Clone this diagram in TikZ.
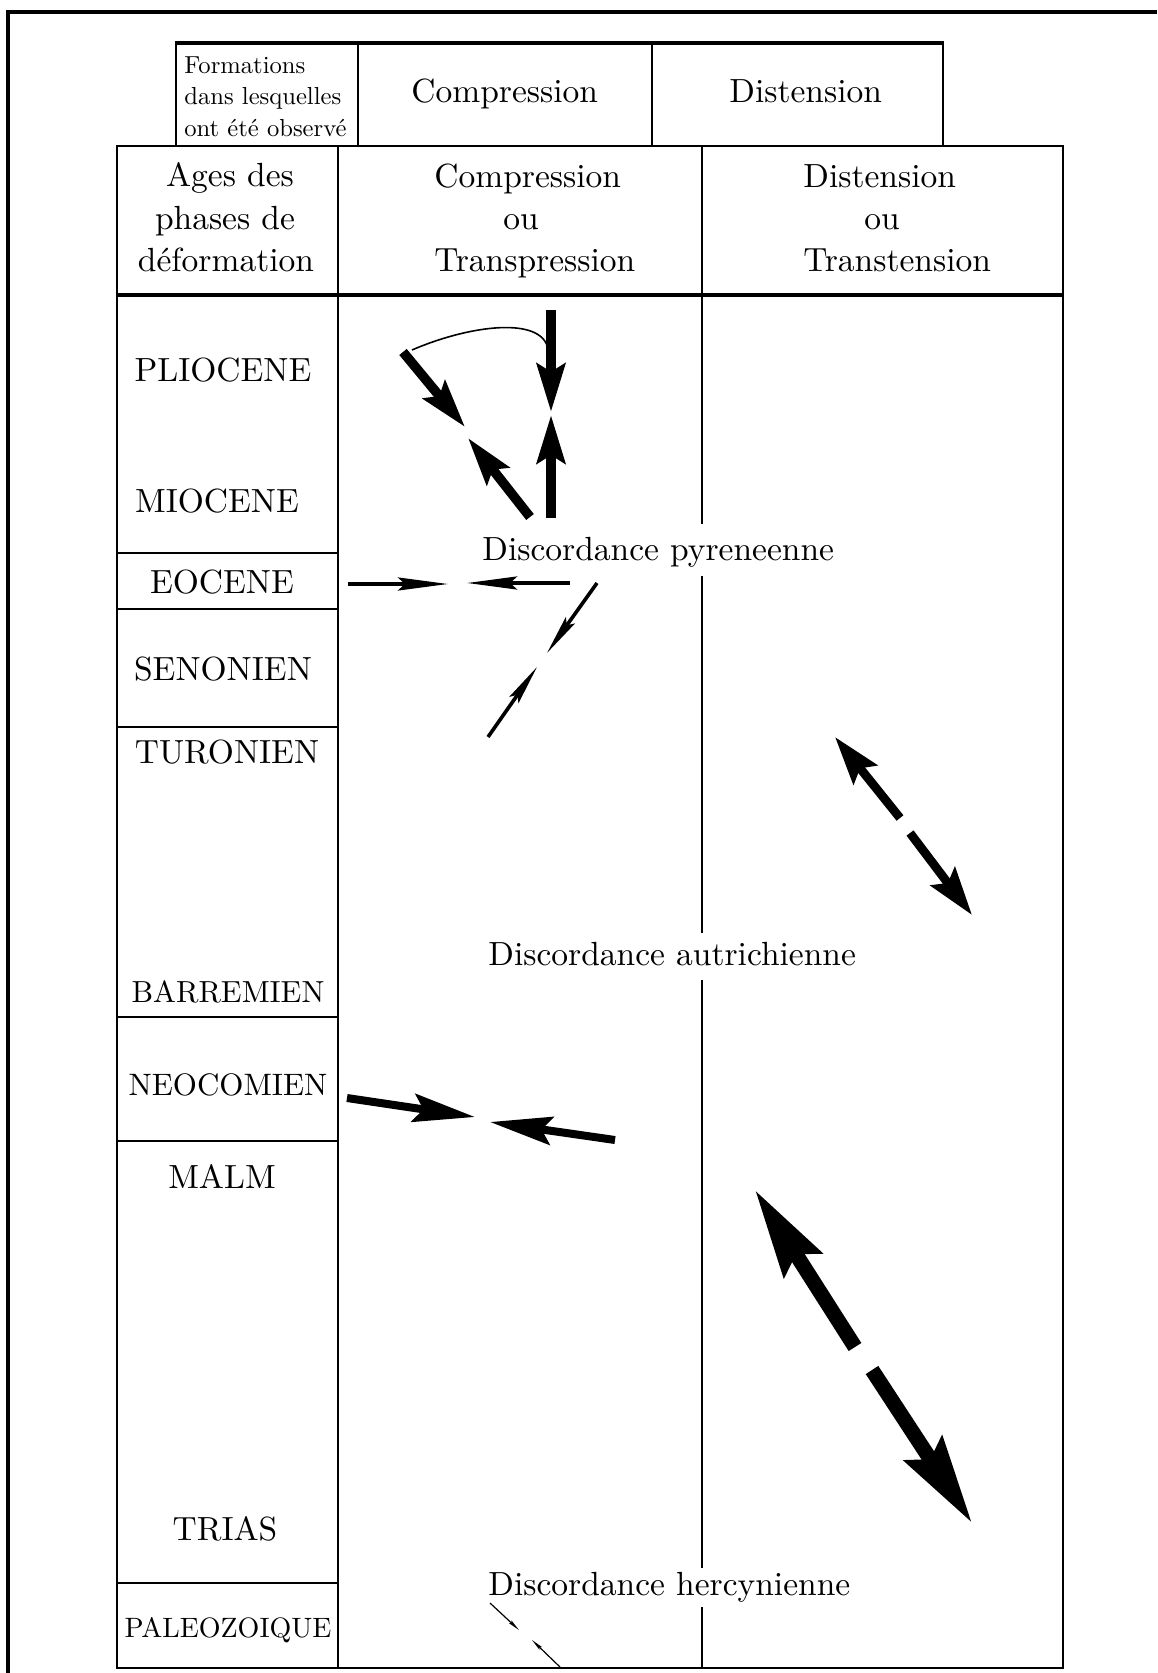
\documentclass[tikz,border=0pt]{standalone}
\usepackage{fontspec}
\setmainfont{lmroman10-regular.otf}
\usepackage{tikz}
\usetikzlibrary{arrows.meta}

\tikzset{
  trait/.style={line width=1.4pt},
  titre/.style={inner sep=0pt, anchor=base, font=\fontsize{16.75pt}{21pt}\selectfont},
  petit/.style={inner sep=0pt, anchor=base west, font=\fontsize{12.3pt}{15pt}\selectfont},
  fort/.style={line width=4.8pt, -{Stealth[length=24pt,width=14pt,inset=4pt]}},
  moyen/.style={line width=4.4pt, -{Stealth[length=24pt,width=15pt,inset=4pt]}},
  neoc/.style={line width=4pt, -{Stealth[length=31pt,width=14pt,inset=5pt]}},
  large/.style={line width=7.5pt, -{Stealth[length=44pt,width=22pt,inset=6pt]}},
  fin/.style={line width=2pt, -{Stealth[length=25pt,width=6.5pt,inset=3.5pt]}},
  fin2/.style={line width=1.8pt, -{Stealth[length=20pt,width=5.5pt,inset=3pt]}},
  minus/.style={line width=0.6pt, -{Stealth[length=6pt,width=1.8pt,inset=1pt]}}
}

\begin{document}
\begin{tikzpicture}[x=0.5pt,y=-0.5pt]
\useasboundingbox (0,0) rectangle (1157,1673);

% cadre
\draw[line width=2pt] (8,1673) -- (8,12) -- (1157,12);

% petit tableau du haut
\draw[trait] (176,146) -- (176,43);
\draw[trait] (943,43) -- (943,146);
\draw[line width=2.2pt] (175,43) -- (944,43);
\draw[trait] (358,43) -- (358,146);
\draw[trait] (652,43) -- (652,146);

\node[petit] (formA) at (184,74) {Formations};
\node[petit] (formB) at (184,105) {dans lesquelles};
\node[petit] (formC) at (184,137) {ont été observé};
\node[titre, anchor=base west] (compr) at (411,103) {Compression};
\node[titre, anchor=base west] (distn) at (729,103) {Distension};

% grand tableau
\draw[trait] (117,146) rectangle (1063,1668);
\draw[trait] (338,146) -- (338,1668);
\draw[line width=1.8pt] (117,295) -- (1063,295);
\draw[trait] (702,146) -- (702,524);
\draw[trait] (702,576) -- (702,933);
\draw[trait] (702,980) -- (702,1568);
\draw[trait] (702,1607) -- (702,1668);
\foreach \y in {553,609,727,1017,1141,1583}
  \draw[trait] (117,\y) -- (338,\y);

% en-tetes
\node[titre] (ageA) at (230,187) {Ages des};
\node[titre] (ageB) at (225,230) {phases de};
\node[titre] (ageC) at (226,272) {déformation};
\node[titre, anchor=base west] (cmpA) at (434,188) {Compression};
\node[titre] (cmpB) at (521,230) {ou};
\node[titre, anchor=base west] (cmpC) at (434,272) {Transpression};
\node[titre, anchor=base west] (disA) at (803,188) {Distension};
\node[titre] (disB) at (882,230) {ou};
\node[titre, anchor=base west] (disC) at (803,272) {Transtension};

% etages
\foreach \nom/\x/\y/\t in {PLIOCENE/223/382/16.75, MIOCENE/217/513/16.75,
    EOCENE/222/593/16.75, SENONIEN/223/680/16.75, TURONIEN/227/763/16.75,
    BARREMIEN/228/1002/15.25, NEOCOMIEN/228/1095/15.5, MALM/222/1188/16.75,
    TRIAS/225/1540/16.75, PALEOZOIQUE/228/1637/14}
  \node[titre, font=\fontsize{\t pt}{18pt}\selectfont] (\nom) at (\x,\y) {\nom};

% discordances
\node[titre, anchor=base west] (pyr) at (482,560) {Discordance pyreneenne};
\node[titre, anchor=base west] (autr) at (488,965) {Discordance autrichienne};
\node[titre, anchor=base west] (herc) at (488,1595) {Discordance hercynienne};

% fleches
\coordinate (plA) at (403,352);
\coordinate (plB) at (465,427);
\coordinate (plC) at (530,517);
\coordinate (plD) at (468,438);
\coordinate (plE) at (551,310);
\coordinate (plF) at (551,412);
\coordinate (plG) at (551,518);
\coordinate (plH) at (551,415);
\coordinate (plK) at (412,350);
\coordinate (plL) at (547,345);

\draw[fort] (plA) -- (plB);
\draw[fort] (plC) -- (plD);
\draw[fort] (plE) -- (plF);
\draw[fort] (plG) -- (plH);
\draw[line width=0.8pt] (plK) .. controls (465,327) and (535,316) .. (plL);

\coordinate (eoA) at (348,584);
\coordinate (eoB) at (448,584);
\coordinate (eoC) at (570,583);
\coordinate (eoD) at (467,583);
\draw[fin] (eoA) -- (eoB);
\draw[fin] (eoC) -- (eoD);

\coordinate (snA) at (597,583);
\coordinate (snB) at (547,653);
\coordinate (snC) at (488,737);
\coordinate (snD) at (537,667);
\draw[fin2] (snA) -- (snB);
\draw[fin2] (snC) -- (snD);

\coordinate (dtA) at (900,818);
\coordinate (dtB) at (835,737);
\coordinate (dtC) at (910,833);
\coordinate (dtD) at (972,915);
\draw[moyen] (dtA) -- (dtB);
\draw[moyen] (dtC) -- (dtD);

\coordinate (neA) at (347,1098);
\coordinate (neB) at (475,1117);
\coordinate (neC) at (615,1140);
\coordinate (neD) at (490,1122);
\draw[neoc] (neA) -- (neB);
\draw[neoc] (neC) -- (neD);

\coordinate (dlA) at (855,1347);
\coordinate (dlB) at (755,1190);
\coordinate (dlC) at (872,1370);
\coordinate (dlD) at (972,1523);
\draw[large] (dlA) -- (dlB);
\draw[large] (dlC) -- (dlD);

\coordinate (paA) at (490,1603);
\coordinate (paB) at (519,1630);
\coordinate (paC) at (560,1667);
\coordinate (paD) at (532,1640);
\draw[minus] (paA) -- (paB);
\draw[minus] (paC) -- (paD);

\end{tikzpicture}
\end{document}
